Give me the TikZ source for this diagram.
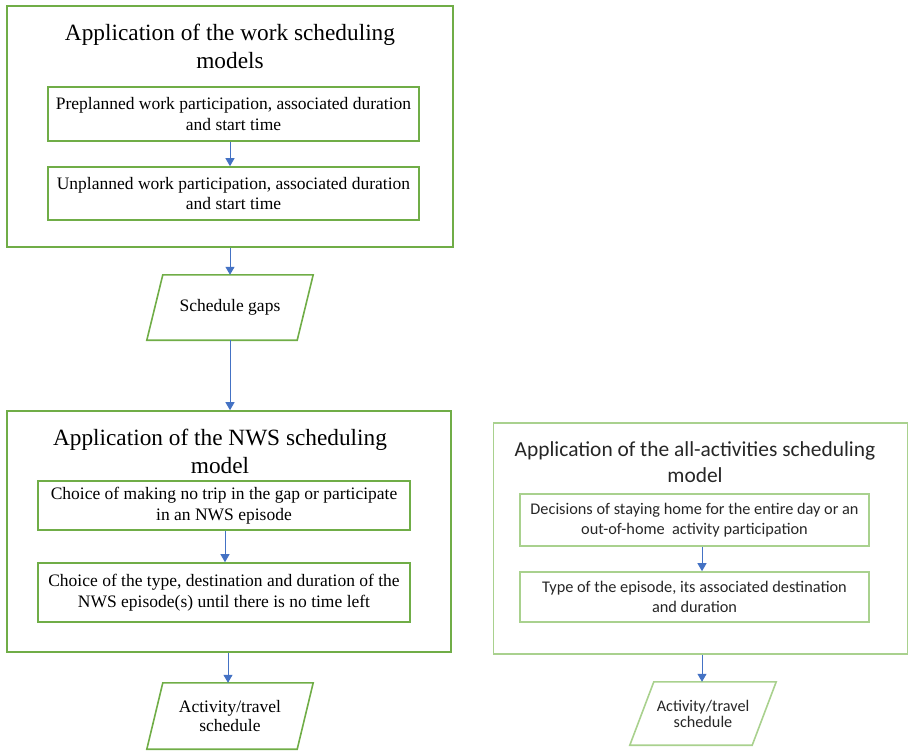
\documentclass[tikz,border=0pt]{standalone}
\usepackage{fontspec}
\setmainfont{Liberation Serif}
\newfontfamily\calfont{Carlito}
\usetikzlibrary{arrows.meta,calc}
\definecolor{gA}{HTML}{70AD47}
\definecolor{gB}{HTML}{A9D18E}
\definecolor{bl}{HTML}{4472C4}
\definecolor{tx}{HTML}{262626}
\tikzset{
  panel/.style={draw=gA,line width=1.6pt,inner sep=0pt},
  lpanel/.style={draw=gB,line width=1.6pt,inner sep=0pt},
  box/.style={draw=gA,line width=1.6pt,inner sep=0pt,align=center,font=\fontsize{17.5}{20.5}\selectfont},
  rbox/.style={draw=gB,line width=1.6pt,inner sep=0pt,align=center,text=tx,font=\calfont\fontsize{16.3}{20}\selectfont},
  ttl/.style={align=center,inner sep=0pt,font=\fontsize{23.3}{28}\selectfont},
  rttl/.style={align=center,inner sep=0pt,text=tx,font=\calfont\fontsize{21.4}{26}\selectfont},
  para/.style={inner sep=0pt,align=center,font=\fontsize{17.5}{18}\selectfont},
  rpara/.style={inner sep=0pt,align=center,text=tx,font=\calfont\fontsize{16.2}{16}\selectfont},
  arr/.style={draw=bl,line width=1pt,-{Triangle[length=8pt,width=9pt]}}
}
\begin{document}
\begin{tikzpicture}[x=1pt,y=-1pt]
\useasboundingbox (0,0) rectangle (909,750);
% left top panel
\node[panel,minimum width=446,minimum height=241] (p1) at (230,126.5) {};
\node[ttl] (t1) at (230,46) {Application of the work scheduling\\models};
\node[box,minimum width=371,minimum height=54] (b1) at (233.5,114) {Preplanned work participation, associated duration\\and start time};
\node[box,minimum width=371,minimum height=53] (b2) at (233.5,193.5) {Unplanned work participation, associated duration\\and start time};
% schedule gaps
\node[para,minimum width=150,minimum height=65] (gap) at (230,307.5) {Schedule gaps};
\draw[gA,line width=1.6pt,line join=miter] ($(gap.north west)+(8,0)$) -- ($(gap.north east)+(8,0)$) -- ($(gap.south east)+(-8,0)$) -- ($(gap.south west)+(-8,0)$) -- cycle;
% left middle panel
\node[panel,minimum width=444,minimum height=241] (p2) at (229,531.5) {};
\node[ttl] (t2) at (220,451) {Application of the NWS scheduling\\model};
\node[box,minimum width=372,minimum height=49] (b3) at (224,505.5) {Choice of making no trip in the gap or participate\\in an NWS episode};
\node[box,minimum width=372,minimum height=59] (b4) at (224,592.5) {Choice of the type, destination and duration of the\\NWS episode(s) until there is no time left};
% left bottom parallelogram
\node[para,minimum width=150,minimum height=66] (a1) at (230,716) {Activity/travel\\schedule};
\draw[gA,line width=1.6pt,line join=miter] ($(a1.north west)+(8,0)$) -- ($(a1.north east)+(8,0)$) -- ($(a1.south east)+(-8,0)$) -- ($(a1.south west)+(-8,0)$) -- cycle;
% right panel
\node[lpanel,minimum width=414,minimum height=231] (p3) at (700.5,538.5) {};
\node[rttl] (t3) at (695,462) {Application of the all-activities scheduling\\model};
\node[rbox,minimum width=349,minimum height=52] (b5) at (694.5,520) {Decisions of staying home for the entire day or an\\out-of-home\ \ activity participation};
\node[rbox,minimum width=349,minimum height=50] (b6) at (694.5,597) {Type of the episode, its associated destination\\and duration};
\node[rpara,minimum width=122,minimum height=63] (a2) at (703,713.5) {Activity/travel\\schedule};
\draw[gB,line width=1.6pt,line join=miter] ($(a2.north west)+(12,0)$) -- ($(a2.north east)+(12,0)$) -- ($(a2.south east)+(-12,0)$) -- ($(a2.south west)+(-12,0)$) -- cycle;
% arrows
\draw[arr] (b1.south -| p1.south) -- (b2.north -| p1.south);
\draw[arr] (p1.south) -- (gap.north);
\draw[arr] (gap.south) -- (gap.south |- p2.north);
\draw[arr] ([xshift=1pt]b3.south) -- ([xshift=1pt]b4.north);
\coordinate (c1) at ($(p2.south)+(-1,0)$);
\draw[arr] (c1) -- (c1 |- a1.north);
\coordinate (c2) at ($(p3.south)+(1.5,0)$);
\draw[arr] (c2) -- (c2 |- a2.north);
\coordinate (c3) at ($(b5.south)+(7.5,0)$);
\draw[arr] (c3) -- (c3 |- b6.north);
\end{tikzpicture}
\end{document}
